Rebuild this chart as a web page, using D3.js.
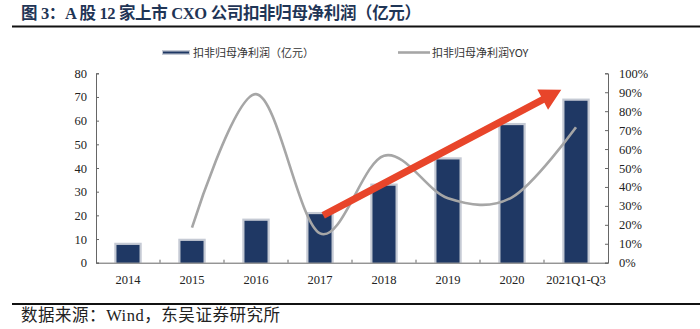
<!DOCTYPE html>
<html>
<head>
<meta charset="utf-8">
<script src="https://cdn.jsdelivr.net/npm/d3@7"></script>
<style>
  html, body { margin: 0; padding: 0; background: #fff; }
  svg { display: block; }
</style>
</head>
<body>
<svg id="chart" width="700" height="329"></svg>
<script>
const categories = ["2014", "2015", "2016", "2017", "2018", "2019", "2020", "2021Q1-Q3"];
const profit = [7.5, 9.2, 17.7, 20.5, 32.5, 43.6, 58.1, 68.4];          // 扣非归母净利润（亿元）
const yoy = [null, 18.5, 89, 15.5, 56.5, 34, 34.5, 71.5];              // 扣非归母净利润YOY (%)
const leftTicks = [0, 10, 20, 30, 40, 50, 60, 70, 80];
const rightTicks = [0, 10, 20, 30, 40, 50, 60, 70, 80, 90, 100];
// trend arrow endpoints in data units: [category index position, left-axis value]
const arrowFrom = [3.55, 20];
const arrowTo = [7.27, 73];

const titleText = "图 3：A 股 12 家上市 CXO 公司扣非归母净利润（亿元）";
const sourceText = "数据来源：Wind，东吴证券研究所";
const legendNames = ["扣非归母净利润（亿元）", "扣非归母净利润YOY"];

const svg = d3.select("#chart");
const W = 700, H = 329;
const L = 96, R = 608, T = 73.3, B = 262.7;
const serif = "'Liberation Serif', 'Times New Roman', 'Noto Sans CJK SC', serif";
const navy = "#1F3864";
const halo = "#C5CAD4";
const gray = "#A6A6A6";
const axisCol = "#666666";

// title
svg.append("text")
  .attr("x", 21).attr("y", 19)
  .attr("font-family", "'Liberation Serif', 'Noto Sans CJK SC', serif")
  .attr("font-weight", "bold")
  .attr("font-size", 16.5)
  .attr("fill", "#1F3556")
  .attr("textLength", 400).attr("lengthAdjust", "spacing")
  .text(titleText);
svg.append("line").attr("x1", 12).attr("x2", W).attr("y1", 26.5).attr("y2", 26.5)
  .attr("stroke", "#111").attr("stroke-width", 2);

// source
svg.append("line").attr("x1", 12).attr("x2", W).attr("y1", 304).attr("y2", 304)
  .attr("stroke", "#111").attr("stroke-width", 2);
svg.append("text")
  .attr("x", 21).attr("y", 321)
  .attr("font-family", "'Liberation Serif', 'Noto Sans CJK SC', serif")
  .attr("font-size", 16.5)
  .attr("fill", "#222")
  .attr("textLength", 259).attr("lengthAdjust", "spacing")
  .text(sourceText);

// scales
const x = d3.scaleBand().domain(categories).range([L, R]).padding(0);
const xi = d3.scaleLinear().domain([0, categories.length]).range([L, R]);
const yL = d3.scaleLinear().domain([0, 80]).range([B, T]);
const yR = d3.scaleLinear().domain([0, 100]).range([B, T]);

// bars
const bw = x.bandwidth() * 0.36;
const hw = 2.2;
const bars = svg.append("g");
bars.selectAll("rect.halo").data(categories).join("rect")
  .attr("class", "halo")
  .attr("x", d => x(d) + x.bandwidth() / 2 - bw / 2 - hw)
  .attr("width", bw + 2 * hw)
  .attr("y", (d, i) => yL(profit[i]) - hw)
  .attr("height", (d, i) => B - yL(profit[i]) + hw)
  .attr("fill", halo);
bars.selectAll("rect.bar").data(categories).join("rect")
  .attr("class", "bar")
  .attr("x", d => x(d) + x.bandwidth() / 2 - bw / 2)
  .attr("width", bw)
  .attr("y", (d, i) => yL(profit[i]))
  .attr("height", (d, i) => B - yL(profit[i]))
  .attr("fill", navy);

// axes
const axL = d3.axisLeft(yL).tickValues(leftTicks).tickSize(-3).tickPadding(9).tickFormat(d3.format("d"));
const gL = svg.append("g").attr("transform", `translate(${L},0)`).call(axL);
const axR = d3.axisRight(yR).tickValues(rightTicks).tickSize(-3).tickPadding(11).tickFormat(d => d + "%");
const gR = svg.append("g").attr("transform", `translate(${R},0)`).call(axR);
const axB = d3.axisBottom(x).tickSize(0).tickPadding(12);
const gB = svg.append("g").attr("transform", `translate(0,${B})`).call(axB);
// category boundary ticks (inside)
svg.append("g").selectAll("line").data(d3.range(1, categories.length)).join("line")
  .attr("x1", i => xi(i)).attr("x2", i => xi(i))
  .attr("y1", B).attr("y2", B - 3)
  .attr("stroke", axisCol);

[gL, gR, gB].forEach(g => {
  g.select(".domain").attr("stroke", axisCol).attr("stroke-width", 1);
  g.selectAll(".tick line").attr("stroke", axisCol);
  g.selectAll(".tick text")
    .attr("font-family", serif).attr("font-size", 12.5).attr("fill", "#222");
});

// yoy line
const pts = yoy.map((v, i) => v == null ? null : [x(categories[i]) + x.bandwidth() / 2, yR(v)]).filter(p => p);
svg.append("path")
  .attr("d", d3.line().curve(d3.curveCatmullRom.alpha(0))(pts))
  .attr("fill", "none").attr("stroke", gray).attr("stroke-width", 2.6);

// trend arrow
const ax0 = xi(arrowFrom[0]), ay0 = yL(arrowFrom[1]);
const ax1 = xi(arrowTo[0]), ay1 = yL(arrowTo[1]);
const dx = ax1 - ax0, dy = ay1 - ay0, len = Math.hypot(dx, dy);
const ux = dx / len, uy = dy / len, nx = -uy, ny = ux;
const headL = 21, headW = 11.5, shaft = 3.6;
const bx = ax1 - headL * ux, by = ay1 - headL * uy;
const arrowPts = [
  [ax0 + shaft * nx, ay0 + shaft * ny],
  [bx + shaft * nx, by + shaft * ny],
  [bx + headW * nx, by + headW * ny],
  [ax1, ay1],
  [bx - headW * nx, by - headW * ny],
  [bx - shaft * nx, by - shaft * ny],
  [ax0 - shaft * nx, ay0 - shaft * ny]
];
svg.append("path")
  .attr("d", d3.line()(arrowPts) + "Z")
  .attr("fill", "#E8452A");

// legend
const lg = svg.append("g");
lg.append("line").attr("x1", 162).attr("x2", 190).attr("y1", 52.5).attr("y2", 52.5)
  .attr("stroke", halo).attr("stroke-width", 5);
lg.append("line").attr("x1", 163).attr("x2", 189).attr("y1", 52.5).attr("y2", 52.5)
  .attr("stroke", navy).attr("stroke-width", 2);
lg.append("text").attr("x", 193).attr("y", 56.5)
  .attr("font-family", "'Noto Sans CJK SC', sans-serif").attr("font-size", 11).attr("fill", "#333")
  .text(legendNames[0]);
lg.append("line").attr("x1", 398).attr("x2", 430).attr("y1", 52.5).attr("y2", 52.5)
  .attr("stroke", gray).attr("stroke-width", 2.6);
lg.append("text").attr("x", 432).attr("y", 56.5)
  .attr("font-family", "'Noto Sans CJK SC', sans-serif").attr("font-size", 11).attr("fill", "#333")
  .text(legendNames[1]);
</script>
</body>
</html>
